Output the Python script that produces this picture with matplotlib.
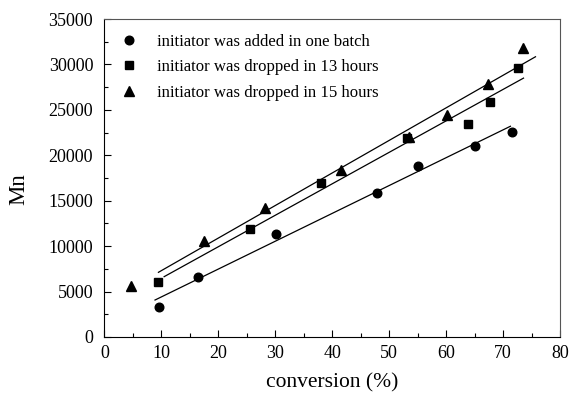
import matplotlib
matplotlib.use("Agg")
import matplotlib.pyplot as plt
from matplotlib.ticker import MultipleLocator
import numpy as np

plt.rcParams['font.family'] = ['Liberation Serif', 'DejaVu Serif']

# data
batch_x = [9.65, 16.5, 30.2, 47.9, 55.1, 65.0, 71.6]
batch_y = [3330, 6570, 11300, 15900, 18860, 21000, 22600]
h13_x = [9.4, 25.5, 38.0, 53.2, 63.9, 67.8, 72.6]
h13_y = [6090, 11850, 16900, 21900, 23400, 25900, 29600]
h15_x = [4.6, 17.5, 28.2, 41.6, 53.5, 60.1, 67.3, 73.5]
h15_y = [5600, 10600, 14200, 18400, 22000, 24400, 27800, 31800]

# fitted lines (end points)
fit_batch_x = [8.9, 71.3]
fit_batch_y = [4070, 23200]
fit_h13_x = [10.5, 73.6]
fit_h13_y = [6640, 28500]
fit_h15_x = [9.5, 75.7]
fit_h15_y = [7120, 30850]

labels = ["initiator was added in one batch",
          "initiator was dropped in 13 hours",
          "initiator was dropped in 15 hours"]

fig = plt.figure(figsize=(5.71, 3.93), dpi=100)
ax = fig.add_axes([0.1827, 0.1425, 0.798, 0.809])

ax.plot(batch_x, batch_y, 'o', color='black', markersize=6.2, label=labels[0])
ax.plot(h13_x, h13_y, 's', color='black', markersize=5.5, label=labels[1])
ax.plot(h15_x, h15_y, '^', color='black', markersize=6.8, label=labels[2])

ax.plot(fit_batch_x, fit_batch_y, '-', color='black', lw=0.9)
ax.plot(fit_h13_x, fit_h13_y, '-', color='black', lw=0.9)
ax.plot(fit_h15_x, fit_h15_y, '-', color='black', lw=0.9)

ax.set_xlim(0, 80)
ax.set_ylim(0, 35000)
ax.xaxis.set_major_locator(MultipleLocator(10))
ax.xaxis.set_minor_locator(MultipleLocator(5))
ax.yaxis.set_major_locator(MultipleLocator(5000))
ax.yaxis.set_minor_locator(MultipleLocator(2500))
ax.tick_params(which='both', direction='in', labelsize=13, top=False, right=False)
ax.tick_params(axis='y', which='major', pad=8)
ax.tick_params(axis='x', which='major', pad=6)
ax.tick_params(which='major', length=5, width=0.8)
ax.tick_params(which='minor', length=3, width=0.8)
for s in ax.spines.values():
    s.set_linewidth(0.8)
for s in ['top', 'right']:
    ax.spines[s].set_color('#555555')

ax.set_xlabel("conversion (%)", fontsize=15.5, labelpad=8)
ax.set_ylabel("Mn", fontsize=16.5)
ax.yaxis.set_label_coords(-0.164, 0.465)

ax.legend(loc='upper left', bbox_to_anchor=(0.02, 0.974), frameon=False,
          fontsize=12.1, handlelength=1.0, handletextpad=1.17, labelspacing=0.55,
          borderaxespad=0.0)

fig.savefig("out.png", dpi=100)
